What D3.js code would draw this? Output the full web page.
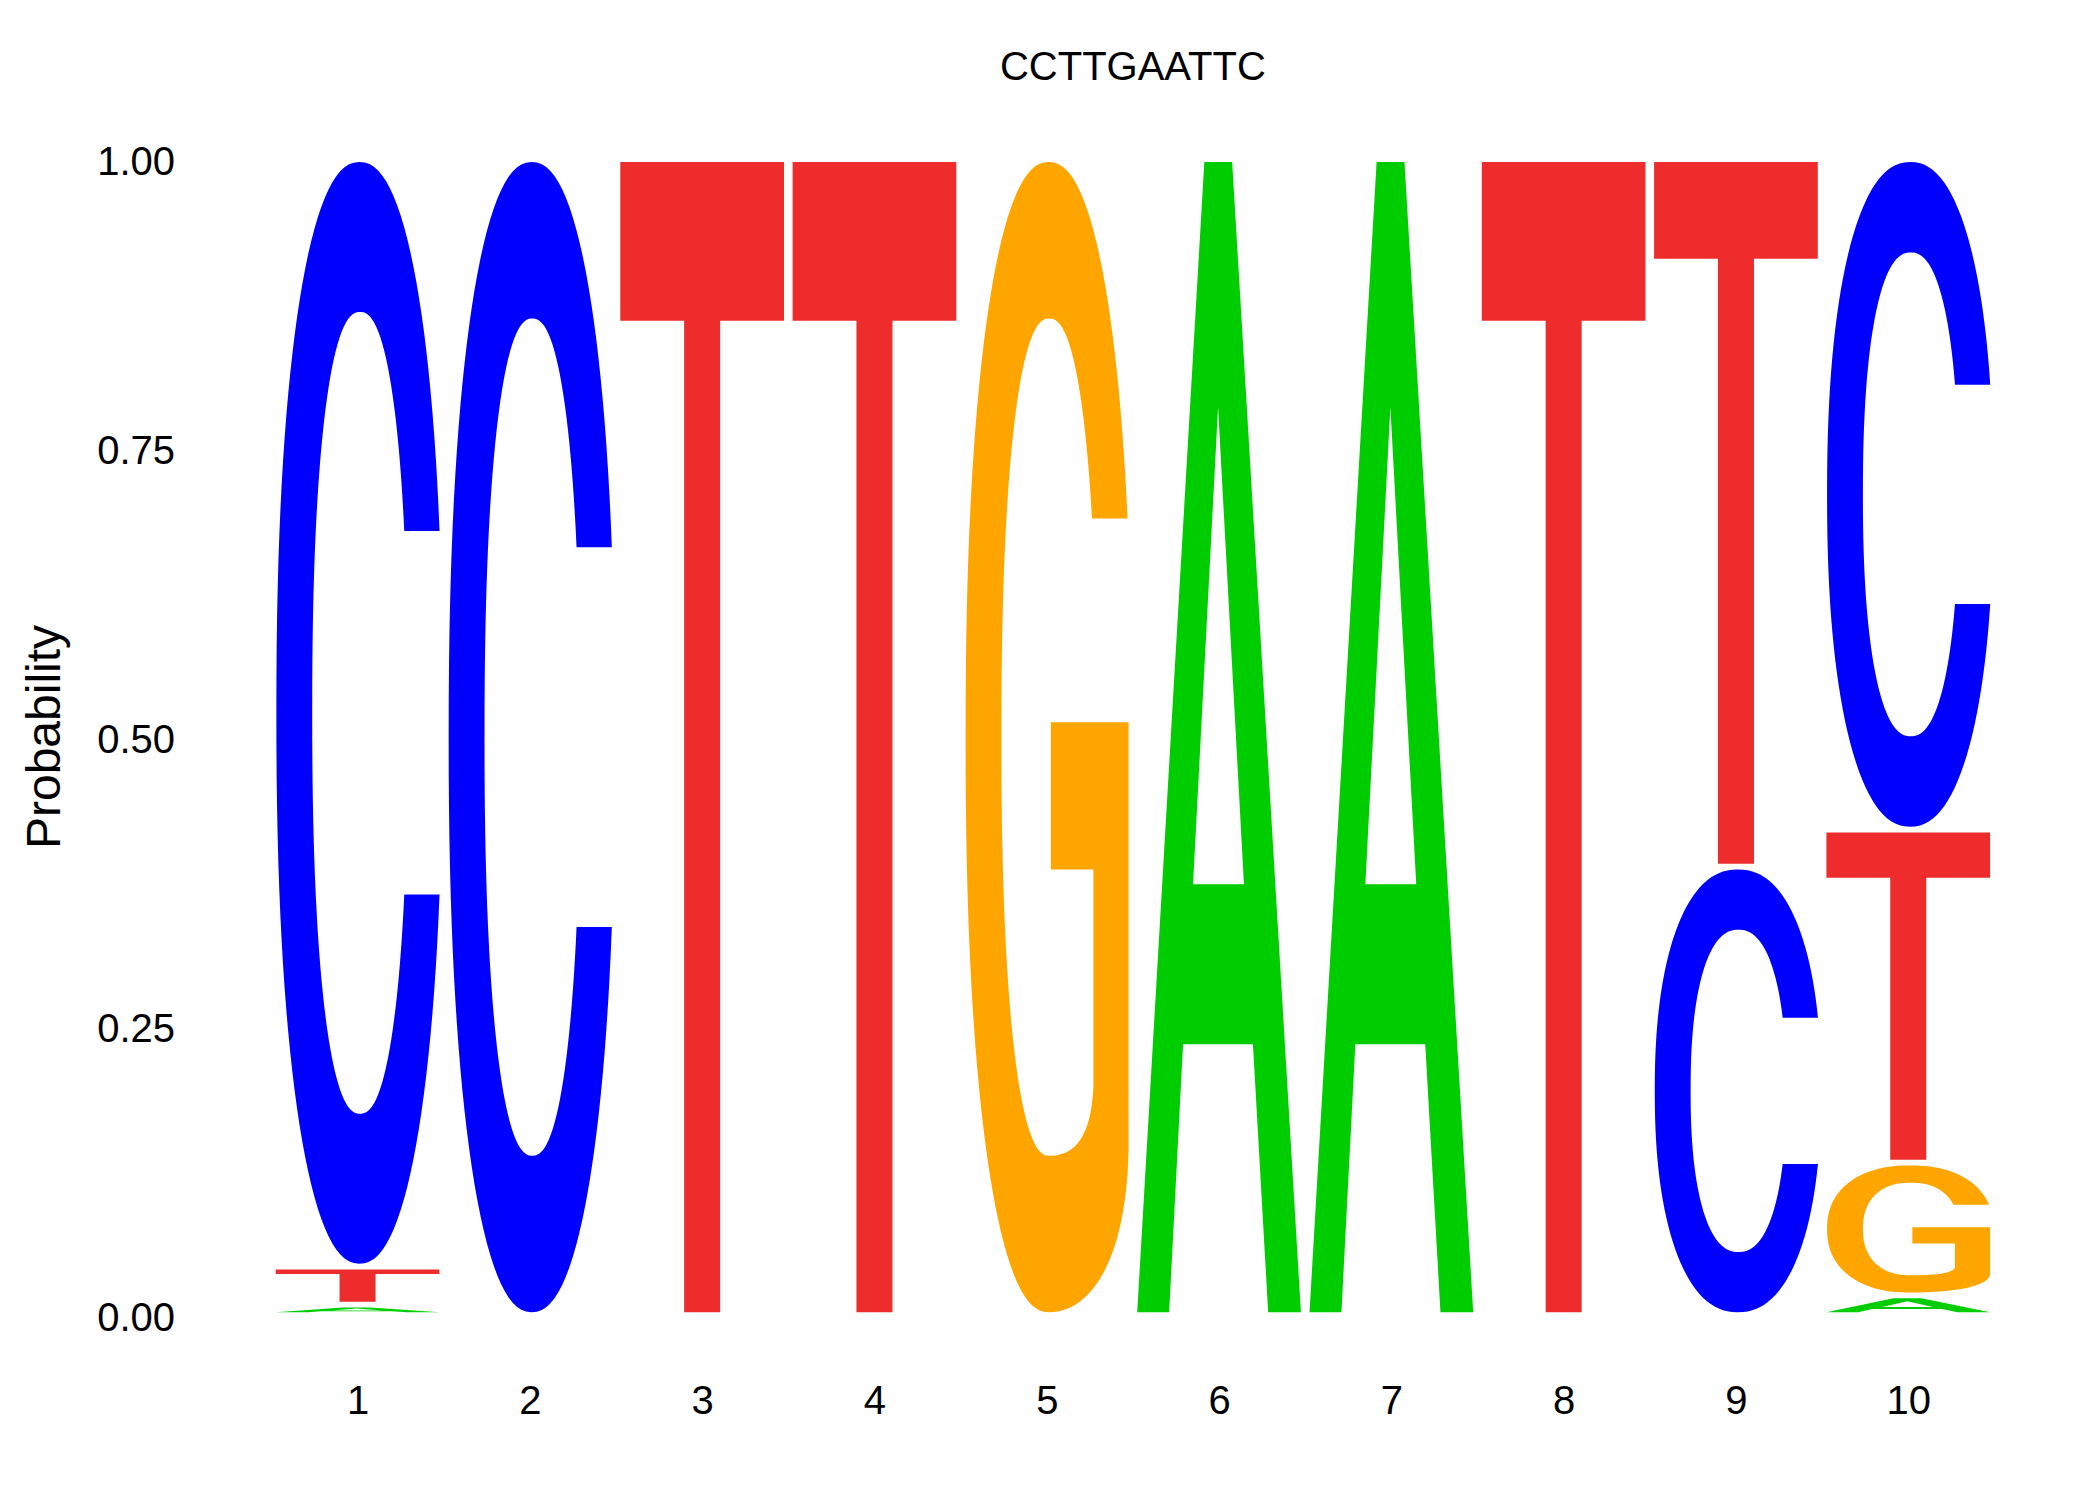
<!DOCTYPE html>
<html>
<head>
<meta charset="utf-8">
<script src="https://cdn.jsdelivr.net/npm/d3@7"></script>
<style>
  body { margin: 0; background: #fff; }
  text { font-family: "Liberation Sans", Arial, Helvetica, sans-serif; fill: #000; }
</style>
</head>
<body>
<div id="logo"></div>
<script>
// motif data: probability of each base at each position
var title = "CCTTGAATTC";
var positions = [1, 2, 3, 4, 5, 6, 7, 8, 9, 10];
var probA = [0.009, 0, 0, 0, 0, 1, 1, 0, 0, 0.017];
var probC = [0.958, 1, 0, 0, 0, 0, 0, 0, 0.388, 0.580];
var probG = [0, 0, 0, 0, 1, 0, 0, 0, 0, 0.115];
var probT = [0.033, 0, 1, 1, 0, 0, 0, 1, 0.612, 0.288];
var yTicks = [0, 0.25, 0.5, 0.75, 1];

var svgWidth = 2100;
var svgHeight = 1500;

var colors = { A: "#00CD00", C: "#0000FF", G: "#FFA500", T: "#EE2C2C" };
var letterWidth = 0.95;   // fraction of one position
var letterGap = 0.005;    // small gap below each letter, in probability units

var svg = d3.select("#logo")
    .append("svg")
    .attr("width", svgWidth)
    .attr("height", svgHeight);

var xScale = d3.scaleLinear()
    .domain([0.5, 10.5])
    .range([271.4, 1994.4]);

var yScale = d3.scaleLinear()
    .domain([0, 1])
    .range([1318, 162]);

// ---- letter outlines in a unit box (x 0..1, y 0..1 from bottom) ----
// superellipse arc, n = 2 is a plain ellipse
function arc(cx, cy, rx, ry, n, a0, a1, steps) {
    var e = 2 / n, pts = [];
    for (var i = 0; i <= steps; i++) {
        var a = a0 + (a1 - a0) * i / steps;
        var c = Math.cos(a), s = Math.sin(a);
        pts.push([cx + rx * Math.sign(c) * Math.pow(Math.abs(c), e),
                  cy + ry * Math.sign(s) * Math.pow(Math.abs(s), e)]);
    }
    return pts;
}

// angle at which a superellipse reaches a given height ratio
function cutAngle(ratio, n) {
    return Math.asin(Math.pow(ratio, n / 2));
}

function bezier(p0, p1, p2, p3, steps) {
    var pts = [];
    for (var i = 1; i <= steps; i++) {
        var t = i / steps, s = 1 - t;
        pts.push([
            s*s*s*p0[0] + 3*s*s*t*p1[0] + 3*s*t*t*p2[0] + t*t*t*p3[0],
            s*s*s*p0[1] + 3*s*s*t*p1[1] + 3*s*t*t*p2[1] + t*t*t*p3[1]
        ]);
    }
    return pts;
}

var TWO_PI = Math.PI * 2;
var nOut = 2.25, nIn = 2.3;

function glyph(letter) {
    if (letter === "T") {
        return [[[0, 1], [1, 1], [1, 0.862], [0.61, 0.862], [0.61, 0], [0.39, 0], [0.39, 0.862], [0, 0.862]]];
    }
    if (letter === "A") {
        return [
            [[0, 0], [0.41, 1], [0.58, 1], [1, 0], [0.80, 0], [0.707, 0.233], [0.28, 0.233], [0.195, 0]],
            [[0.341, 0.372], [0.494, 0.787], [0.652, 0.372]]
        ];
    }
    if (letter === "C") {
        var tO = cutAngle(0.165 / 0.5, nOut);
        var tI = cutAngle(0.165 / 0.364, nIn);
        var outer = arc(0.512, 0.5, 0.508, 0.5, nOut, tO, TWO_PI - tO, 120);
        var inner = arc(0.515, 0.5, 0.292, 0.364, nIn, TWO_PI - tI, tI, 120);
        return [outer.concat(inner)];
    }
    // G
    var gO = cutAngle(0.19 / 0.5, nOut);
    var gI = cutAngle(0.19 / 0.364, nIn);
    var ring = arc(0.512, 0.5, 0.508, 0.5, nOut, gO, Math.PI * 1.5, 100);
    ring = ring.concat(bezier([0.512, 0], [0.77, 0], [0.985, 0.045], [1, 0.141], 24));
    ring = ring.concat([[1, 0.513], [0.525, 0.513], [0.525, 0.385], [0.785, 0.385], [0.785, 0.196]]);
    ring = ring.concat(bezier([0.785, 0.196], [0.77, 0.15], [0.66, 0.136], [0.515, 0.136], 24));
    ring = ring.concat(arc(0.515, 0.5, 0.292, 0.364, nIn, Math.PI * 1.5, gI, 90));
    return [ring];
}

var line = d3.line();

function letterPath(d) {
    var sx = d3.scaleLinear().domain([0, 1])
        .range([xScale(d.pos - letterWidth / 2), xScale(d.pos + letterWidth / 2)]);
    var sy = d3.scaleLinear().domain([0, 1])
        .range([yScale(d.y0 + letterGap), yScale(d.y1)]);
    return glyph(d.letter).map(function(ring) {
        return line(ring.map(function(p) { return [sx(p[0]), sy(p[1])]; })) + "Z";
    }).join("");
}

// ---- stack letters: smallest at the bottom ----
var stacks = [];
positions.forEach(function(pos, i) {
    var col = [
        { letter: "A", p: probA[i] },
        { letter: "C", p: probC[i] },
        { letter: "G", p: probG[i] },
        { letter: "T", p: probT[i] }
    ].filter(function(d) { return d.p > letterGap; })
     .sort(function(a, b) { return a.p - b.p; });
    var acc = 0;
    col.forEach(function(d) {
        stacks.push({ pos: pos, letter: d.letter, y0: acc, y1: acc + d.p });
        acc += d.p;
    });
});

svg.append("g")
    .selectAll("path")
    .data(stacks)
    .enter()
    .append("path")
    .attr("d", letterPath)
    .attr("fill", function(d) { return colors[d.letter]; })
    .attr("fill-rule", "evenodd");

// ---- axes (labels only, as in theme_logo) ----
var leftAxis = d3.axisLeft(yScale)
    .tickValues(yTicks)
    .tickFormat(d3.format(".2f"))
    .tickSize(0)
    .tickPadding(10);

var yAxis = svg.append("g")
    .attr("transform", "translate(185, 0)")
    .call(leftAxis);

var bottomAxis = d3.axisBottom(xScale)
    .tickValues(positions)
    .tickFormat(d3.format("d"))
    .tickSize(0)
    .tickPadding(14);

var xAxis = svg.append("g")
    .attr("transform", "translate(0, 1372)")
    .call(bottomAxis);

[xAxis, yAxis].forEach(function(ax) {
    ax.select(".domain").remove();
    ax.selectAll("text")
        .attr("fill", "#000")
        .style("font-size", "40px")
        .style("font-family", "'Liberation Sans', Arial, Helvetica, sans-serif");
});

svg.append("text")
    .attr("transform", "translate(60, 737) rotate(-90)")
    .attr("text-anchor", "middle")
    .style("font-size", "48px")
    .text("Probability");

svg.append("text")
    .attr("x", (xScale(0.5) + xScale(10.5)) / 2)
    .attr("y", 80)
    .attr("text-anchor", "middle")
    .style("font-size", "40px")
    .text(title);
</script>
</body>
</html>
